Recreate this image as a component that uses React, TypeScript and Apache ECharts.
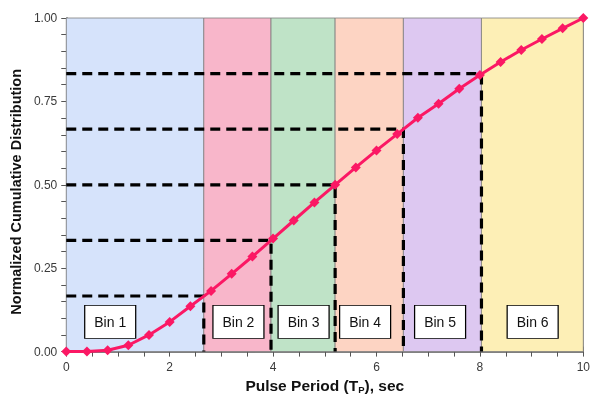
import React, { useEffect, useRef } from "react";
import * as echarts from "echarts";

const periods = [0, 0.4, 0.8, 1.2, 1.6, 2.0, 2.4, 2.8, 3.2, 3.6, 4.0, 4.4, 4.8, 5.2, 5.6, 6.0, 6.4, 6.8, 7.2, 7.6, 8.0, 8.4, 8.8, 9.2, 9.6, 10.0];
const cumulative = [0, 0, 0.004, 0.019, 0.05, 0.089, 0.136, 0.182, 0.233, 0.285, 0.339, 0.393, 0.447, 0.5, 0.552, 0.603, 0.652, 0.701, 0.743, 0.788, 0.829, 0.868, 0.904, 0.937, 0.969, 1.0];

const binEdges = [0, 2.66, 3.96, 5.2, 6.52, 8.03, 10];
const binLevels = [1 / 6, 2 / 6, 3 / 6, 4 / 6, 5 / 6];
const binNames = ["Bin 1", "Bin 2", "Bin 3", "Bin 4", "Bin 5", "Bin 6"];
const binLabelX = [0.85, 3.33, 4.59, 5.78, 7.23, 9.02];
const binLabelY = 0.089;
const binColors = ["#d6e3fb", "#f8b6ca", "#bfe3c7", "#fdd4c3", "#ddc8f1", "#fdefb6"];

export default function App() {
  const ref = useRef<HTMLDivElement>(null);
  useEffect(() => {
    if (!ref.current) return;
    const chart = echarts.init(ref.current, null, { renderer: "svg" });
    const font = "'Liberation Sans', Arial, sans-serif";
    const axisLine = { show: true, lineStyle: { color: "#7a7a7a", width: 1.5 } };
    const tick = { show: true, inside: true, length: 5, lineStyle: { color: "#555", width: 1 } };

    const bands = binNames.map((_, i) => [
      { xAxis: binEdges[i], itemStyle: { color: binColors[i], borderColor: "#7f7f7f", borderWidth: 0.8 } },
      { xAxis: binEdges[i + 1] },
    ]);

    const dashSeries = binLevels.map((lvl, i) => ({
      type: "line",
      data: [
        [0, lvl],
        [binEdges[i + 1], lvl],
        [binEdges[i + 1], 0],
      ],
      symbol: "none",
      lineStyle: { color: "#000", width: 3.2, type: [10, 6] },
      silent: true,
      z: 3,
    }));

    chart.setOption({
      animation: false,
      grid: { left: 64, right: 5, top: 18, bottom: 42, containLabel: false },
      xAxis: [
        {
          type: "value",
          min: 0,
          max: 10,
          interval: 2,
          position: "bottom",
          axisLine,
          axisTick: tick,
          minorTick: { show: true, splitNumber: 4, length: 5, lineStyle: { color: "#555" } },
          splitLine: { show: true, lineStyle: { color: "#9a9a9a", width: 1 } },
          axisLabel: { fontSize: 12, color: "#3a3a3a", fontFamily: font, margin: 9 },
          name: "{n|Pulse Period (T}{s|P}{n|), sec}",
          nameLocation: "middle",
          nameGap: 23,
          nameTextStyle: {
            rich: {
              n: { fontSize: 15.5, fontWeight: "bold", fontFamily: font, color: "#111" },
              s: { fontSize: 9.5, fontWeight: "bold", fontFamily: font, color: "#111", verticalAlign: "bottom", padding: [7, 0, 0, 0] },
            },
          },
        },
        {
          type: "value",
          min: 0,
          max: 10,
          interval: 2,
          position: "top",
          axisLine,
          axisTick: tick,
          minorTick: { show: true, splitNumber: 4, length: 5, lineStyle: { color: "#555" } },
          splitLine: { show: false },
          axisLabel: { show: false },
        },
      ],
      yAxis: [
        {
          type: "value",
          min: 0,
          max: 1,
          interval: 0.25,
          position: "left",
          axisLine,
          axisTick: tick,
          minorTick: { show: true, splitNumber: 5, length: 5, lineStyle: { color: "#555" } },
          splitLine: { show: true, lineStyle: { color: "#9a9a9a", width: 1 } },
          axisLabel: { fontSize: 12, color: "#3a3a3a", fontFamily: font, margin: 9, formatter: (v: number) => v.toFixed(2) },
          name: "Normalized Cumulative Distribution",
          nameLocation: "middle",
          nameGap: 39,
          nameRotate: 90,
          nameTextStyle: { fontSize: 14.5, fontWeight: "bold", fontFamily: font, color: "#111", padding: [0, 14, 0, 0] },
        },
        {
          type: "value",
          min: 0,
          max: 1,
          interval: 0.25,
          position: "right",
          axisLine,
          axisTick: tick,
          minorTick: { show: true, splitNumber: 5, length: 5, lineStyle: { color: "#555" } },
          splitLine: { show: false },
          axisLabel: { show: false },
        },
      ],
      series: [
        {
          type: "line",
          data: [],
          z: -1,
          silent: true,
          markArea: { silent: true, data: bands },
        },
        ...dashSeries,
        {
          type: "scatter",
          data: binNames.map((n, i) => ({ name: n, value: [binLabelX[i], binLabelY] })),
          symbol: "rect",
          symbolSize: [51, 33],
          itemStyle: { color: "#fff", borderColor: "#000", borderWidth: 1, opacity: 1 },
          label: { show: true, position: "inside", formatter: "{b}", fontSize: 14, color: "#111", fontFamily: font },
          z: 4,
          silent: true,
        },
        {
          type: "line",
          data: periods.map((p, i) => [p, cumulative[i]]),
          symbol: "diamond",
          symbolSize: 10,
          lineStyle: { color: "#fb1864", width: 3 },
          itemStyle: { color: "#fb1864" },
          z: 5,
        },
      ],
    });
    return () => chart.dispose();
  }, []);
  return <div ref={ref} style={{ width: "100vw", height: "100vh", position: "fixed", left: 0, top: 0, overflow: "hidden" }} />;
}
